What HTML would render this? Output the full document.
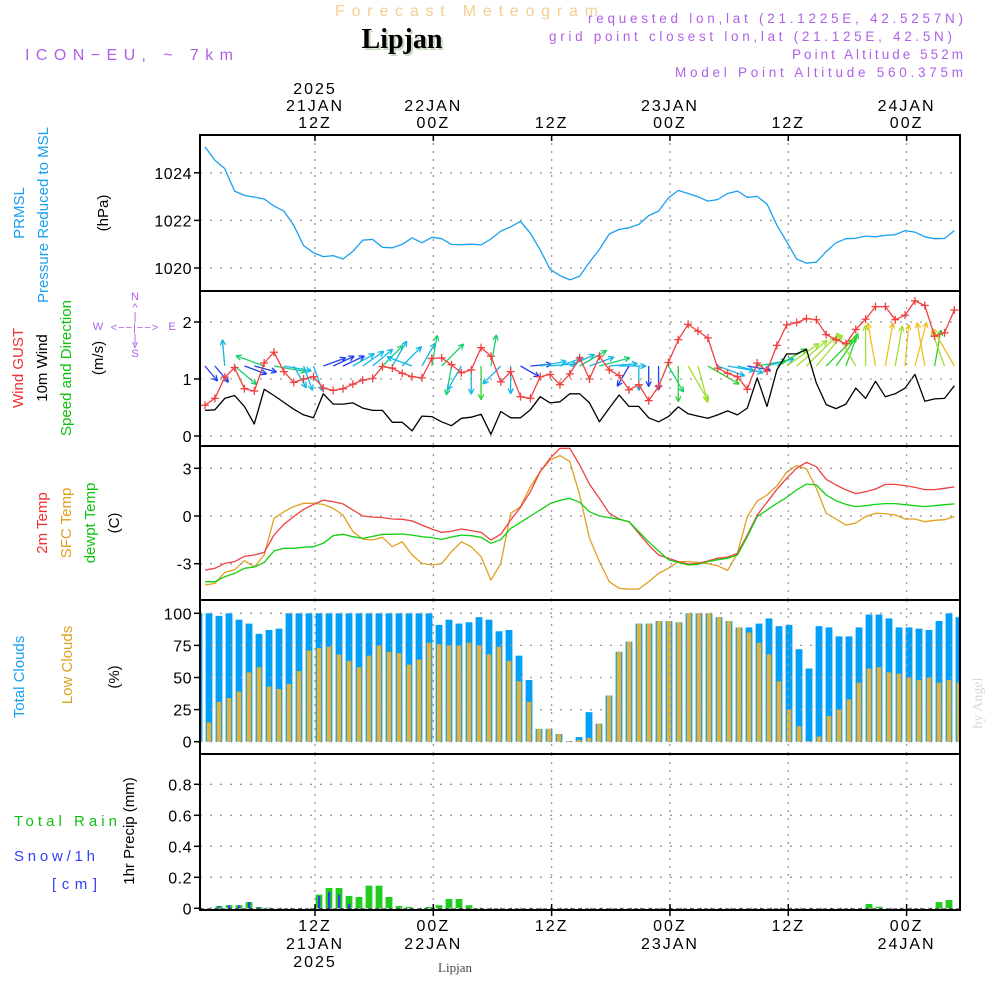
<!DOCTYPE html>
<html><head><meta charset="utf-8">
<style>
html,body{margin:0;padding:0;background:#fff;}
svg{display:block;}
text{font-family:"Liberation Sans",sans-serif;}
</style></head>
<body>
<svg id="chart" width="1000" height="1000" xmlns="http://www.w3.org/2000/svg">
<defs>
<clipPath id="plotclip"><rect x="200" y="135" width="760" height="775"/></clipPath>
</defs>
<!-- header -->
<text x="335" y="16" textLength="263" lengthAdjust="spacing" font-size="16" fill="#f5cf90">Forecast Meteogram</text>
<text x="404" y="50" text-anchor="middle" font-size="28" font-weight="bold" fill="#c8d8c0" style="font-family:'Liberation Serif',serif">Lipjan</text>
<text x="402" y="48" text-anchor="middle" font-size="28" font-weight="bold" fill="#000" style="font-family:'Liberation Serif',serif">Lipjan</text>
<text x="25" y="60" textLength="208" lengthAdjust="spacing" font-size="16" fill="#b060e8">ICON−EU, ~ 7km</text>
<text x="588" y="23" textLength="375" lengthAdjust="spacing" font-size="13.5" fill="#b060e8">requested lon,lat (21.1225E, 42.5257N)</text>
<text x="549" y="41" textLength="403" lengthAdjust="spacing" font-size="13.5" fill="#b060e8">grid point closest lon,lat (21.125E, 42.5N)</text>
<text x="792" y="59" textLength="171" lengthAdjust="spacing" font-size="13.5" fill="#b060e8">Point Altitude 552m</text>
<text x="675" y="77" textLength="288" lengthAdjust="spacing" font-size="13.5" fill="#b060e8">Model Point Altitude 560.375m</text>

<!-- left labels -->
<g font-size="15">
<text transform="translate(24,213) rotate(-90)" text-anchor="middle" fill="#1aa0f0">PRMSL</text>
<text transform="translate(48,215) rotate(-90)" text-anchor="middle" fill="#1aa0f0">Pressure Reduced to MSL</text>
<text transform="translate(108,213) rotate(-90)" text-anchor="middle" fill="#000">(hPa)</text>
<text transform="translate(23,368) rotate(-90)" text-anchor="middle" fill="#f03030">Wind GUST</text>
<text transform="translate(47,368) rotate(-90)" text-anchor="middle" fill="#000">10m Wind</text>
<text transform="translate(71,368) rotate(-90)" text-anchor="middle" fill="#10c010">Speed and Direction</text>
<text transform="translate(103,358) rotate(-90)" text-anchor="middle" fill="#000">(m/s)</text>
<text transform="translate(47,523) rotate(-90)" text-anchor="middle" fill="#f03030">2m Temp</text>
<text transform="translate(71,523) rotate(-90)" text-anchor="middle" fill="#e0a020">SFC Temp</text>
<text transform="translate(95,523) rotate(-90)" text-anchor="middle" fill="#10c010">dewpt Temp</text>
<text transform="translate(119,523) rotate(-90)" text-anchor="middle" fill="#000">(C)</text>
<text transform="translate(24,677) rotate(-90)" text-anchor="middle" fill="#1aa0f0">Total Clouds</text>
<text transform="translate(72,665) rotate(-90)" text-anchor="middle" fill="#e0a020">Low Clouds</text>
<text transform="translate(119,677) rotate(-90)" text-anchor="middle" fill="#000">(%)</text>
<text x="14" y="826" textLength="103" lengthAdjust="spacing" fill="#10c010">Total   Rain</text>
<text x="14" y="861" textLength="81" lengthAdjust="spacing" fill="#3040f0">Snow/1h</text>
<text x="52" y="889" textLength="45" lengthAdjust="spacing" fill="#3040f0">[cm]</text>
<text transform="translate(134,831) rotate(-90)" text-anchor="middle" fill="#000">1hr Precip (mm)</text>
</g>
<!-- compass -->
<g font-size="11" fill="#b060e8">
<text x="98" y="330" text-anchor="middle">W</text>
<text x="135" y="331" text-anchor="middle" letter-spacing="1">&lt;−−|−−&gt;</text>
<text x="172" y="330" text-anchor="middle">E</text>
<text x="135" y="300" text-anchor="middle">N</text>
<text x="135" y="311" text-anchor="middle">^</text>
<text x="135" y="320" text-anchor="middle">|</text>
<text x="135" y="342" text-anchor="middle">|</text>
<text x="135" y="348" text-anchor="middle">v</text>
<text x="135" y="357" text-anchor="middle">S</text>
</g>
<text transform="translate(982,703) rotate(-90)" text-anchor="middle" font-size="14" fill="#d8d8d8" style="font-family:'Liberation Serif',serif">by Angel</text>
<text x="455" y="972" text-anchor="middle" font-size="13" fill="#444" style="font-family:'Liberation Serif',serif">Lipjan</text>
<g id="layer"></g>
</svg>
<script>
// ---- data ----
const timeTicks = ['12Z','00Z','12Z','00Z','12Z','00Z'];
const timeTickDates = ['21JAN','22JAN','','23JAN','','24JAN'];
const timeTickHours = [11.2, 23.2, 35.2, 47.2, 59.2, 71.2];
const pressure = [1025.09,1024.53,1024.18,1023.23,1023.05,1022.98,1022.9,1022.6,1022.39,1021.8,1020.94,1020.64,1020.48,1020.52,1020.38,1020.7,1021.17,1021.2,1020.87,1020.85,1020.99,1021.27,1021.06,1021.29,1021.23,1020.99,1020.98,1021.0,1020.97,1021.22,1021.55,1021.73,1021.96,1021.46,1020.76,1019.94,1019.68,1019.5,1019.66,1020.25,1020.78,1021.43,1021.62,1021.69,1021.83,1022.2,1022.39,1022.94,1023.26,1023.13,1022.99,1022.81,1022.88,1023.13,1023.23,1022.97,1023.01,1022.69,1021.8,1021.1,1020.38,1020.2,1020.25,1020.69,1021.06,1021.23,1021.25,1021.34,1021.31,1021.37,1021.4,1021.57,1021.51,1021.31,1021.23,1021.24,1021.57];
const pressureTicks = [1020,1022,1024];
const gust = [0.54,0.66,1.03,1.2,0.83,0.79,1.28,1.47,1.13,0.94,1.0,1.04,0.84,0.8,0.83,0.91,0.98,1.01,1.22,1.19,1.1,1.04,1.02,1.36,1.37,1.25,1.11,1.16,1.55,1.4,0.95,1.13,0.69,0.66,1.04,1.08,0.9,1.09,1.37,1.0,1.4,1.16,1.06,0.81,0.9,0.62,0.87,1.29,1.69,1.96,1.84,1.72,1.19,1.1,1.04,0.82,1.28,1.14,1.59,1.95,1.99,2.06,2.04,1.78,1.69,1.62,1.87,2.05,2.27,2.27,2.04,2.12,2.37,2.29,1.75,1.81,2.21];
const wind = [0.45,0.46,0.66,0.71,0.52,0.21,0.82,0.71,0.59,0.47,0.37,0.32,0.74,0.56,0.56,0.58,0.49,0.45,0.45,0.24,0.24,0.09,0.35,0.34,0.25,0.18,0.31,0.33,0.38,0.03,0.43,0.32,0.32,0.46,0.69,0.58,0.6,0.74,0.74,0.58,0.25,0.49,0.72,0.52,0.52,0.32,0.25,0.34,0.51,0.39,0.35,0.31,0.37,0.44,0.37,0.49,1.02,0.52,1.16,1.44,1.44,1.52,0.93,0.55,0.48,0.56,0.84,0.66,0.96,0.69,0.74,0.84,1.08,0.61,0.65,0.66,0.88];
const windDir = [-50,-50,95,-40,-20,-15,160,-10,-10,-60,-70,-70,20,25,25,30,35,40,45,60,45,160,60,80,45,-100,-120,-90,-90,80,-135,-90,-30,5,10,5,20,25,30,20,15,5,0,-120,-90,-90,-90,-60,-90,-60,-75,-30,-20,-10,-15,-10,10,15,30,35,40,45,50,45,55,70,120,90,100,80,80,85,75,100,80,110,120];
const windTicks = [0,1,2];
const temp2m = [-3.4,-3.29,-2.98,-2.87,-2.54,-2.45,-2.29,-1.2,-0.52,-0.04,0.42,0.73,1.0,0.9,0.76,0.38,0,-0.06,-0.1,-0.19,-0.21,-0.31,-0.57,-0.82,-1.03,-0.96,-0.82,-0.92,-1.03,-1.51,-1.15,-0.25,0.55,1.53,2.79,3.63,4.26,4.26,3.21,2.0,1.11,0.17,-0.19,-0.36,-1.09,-1.83,-2.45,-2.66,-2.87,-3.02,-2.98,-2.83,-2.66,-2.58,-2.35,-1.2,0.06,0.86,1.68,2.37,3.0,3.38,3.1,2.31,1.95,1.64,1.41,1.53,1.7,1.99,1.99,1.91,1.8,1.66,1.66,1.74,1.83];
const tempSfc = [-4.34,-4.24,-3.55,-3.38,-2.81,-3.21,-2.45,-0.15,0.27,0.59,0.8,0.8,0.73,0.48,0.06,-0.99,-1.45,-1.51,-1.34,-1.93,-1.62,-2.45,-2.98,-3.08,-3.0,-2.24,-1.62,-1.93,-2.56,-4.03,-2.98,0.17,0.59,1.85,2.79,3.52,3.8,3.42,1.32,-1.4,-2.87,-4.13,-4.55,-4.6,-4.6,-4.13,-3.61,-3.29,-2.87,-2.87,-2.92,-3.0,-3.13,-3.42,-2.35,-0.04,0.94,1.32,1.89,2.75,3.17,2.96,1.74,0.17,-0.19,-0.57,-0.44,-0.04,0.17,0.15,0.06,-0.19,-0.19,-0.36,-0.27,-0.23,-0.04];
const dewpt = [-4.13,-4.13,-3.82,-3.61,-3.29,-3.21,-2.92,-2.2,-2.03,-2.03,-1.97,-1.93,-1.72,-1.24,-1.15,-1.3,-1.41,-1.28,-1.15,-1.15,-1.13,-1.2,-1.3,-1.36,-1.47,-1.32,-1.2,-1.24,-1.34,-1.72,-1.49,-0.78,-0.4,0,0.38,0.78,0.99,1.11,0.86,0.27,0,-0.1,-0.21,-0.36,-0.99,-1.62,-2.2,-2.75,-2.92,-3.08,-3.04,-2.87,-2.75,-2.66,-2.45,-1.3,-0.04,0.38,0.8,1.17,1.64,2.01,1.95,1.32,0.96,0.73,0.59,0.65,0.73,0.78,0.78,0.71,0.65,0.59,0.65,0.71,0.76];
const tempTicks = [-3,0,3];
const totalClouds = [100,100,98,100,95,92,84,87,88,100,100,100,100,100,100,100,100,100,100,100,100,100,100,100,91,95,92,93,97,95,86,87,67,48,10,10,6,0.5,3.6,23,14,36,70,78,92,92,94,94,93,100,100,100,97,94,89,89,92,96,90,91,72,57,90,89,82,82,89,99,99,96,89,89,88,87,94,100,97,97];
const lowClouds = [23,15,31,34,39,54,58,43,41,45,55,71,73,74,68,63,58,67,75,70,69,60,64,77,76,75,75,77,75,68,74,63,47,31,10,10,6,0.5,1.5,3,14,36,70,78,92,92,94,94,93,100,100,100,97,94,89,85,77,68,47,25,12,0.5,4,20,25,33,46,57,58,54,53,50,48,50,46,48,46,46];
const cloudTicks = [0,25,50,75,100];
const totalPrecip = [0,0,0.015,0.02,0.02,0.04,0.008,0.003,0,0,0,0,0.088,0.131,0.131,0.08,0.073,0.146,0.146,0.073,0.015,0.009,0,0.009,0.02,0.06,0.06,0.02,0.002,0,0,0,0,0,0,0,0,0,0,0,0,0,0,0,0,0,0,0,0,0,0,0,0,0,0,0,0,0,0,0,0,0,0,0,0,0,0,0.028,0.01,0,0,0,0,0,0.04,0.054,0];
const snowPrecip = [0,0,0.015,0.02,0.02,0.04,0.008,0.003,0,0,0,0,0.08,0.107,0.088,0.03,0.004,0,0,0,0,0,0,0,0,0,0,0,0,0,0,0,0,0,0,0,0,0,0,0,0,0,0,0,0,0,0,0,0,0,0,0,0,0,0,0,0,0,0,0,0,0,0,0,0,0,0,0,0,0,0,0,0,0,0,0,0];
const precipTicks = [0,0.2,0.4,0.6,0.8];
const precipTickLabels = ['0','0.2','0.4','0.6','0.8'];

// ---- axes ----
const X0=200, X1=960;
const xT = i => 205 + i*9.86;
const xB = k => 199 + k*10;
const xH = h => 315 + (h-11.2)*9.86;
const yP = p => 268 - (p-1020)*23.8;
const yW = v => 436 - v*57;
const yTm = t => 516 - t*15.9;
const yC = c => 741.7 - c*1.284;
const yR = r => 908.3 - r*155;
const panels = [[135,291],[291,446],[446,600],[600,754],[754,910]];

const NS='http://www.w3.org/2000/svg';
const layer=document.getElementById('layer');
function mk(tag, attrs, parent){
  const e=document.createElementNS(NS,tag);
  for(const k in attrs) e.setAttribute(k,attrs[k]);
  (parent||layer).appendChild(e); return e;
}
const clipG = mk('g',{'clip-path':'url(#plotclip)'});



function hgrid(y){ const l=mk('line',{x1:X0,x2:X1,y1:y,y2:y,stroke:'#999','stroke-width':1.3,'stroke-dasharray':'2,8'});
   }
panels.forEach(([a,b])=>{ timeTickHours.forEach(h=>{ const l=mk('line',{x1:xH(h),x2:xH(h),y1:a,y2:b,stroke:'#999','stroke-width':1.3,'stroke-dasharray':'2,6'});
   }); });
pressureTicks.forEach(v=>hgrid(yP(v)));
windTicks.forEach(v=>hgrid(yW(v)));
tempTicks.forEach(v=>hgrid(yTm(v)));
cloudTicks.forEach(v=>hgrid(yC(v)));
precipTicks.forEach(v=>hgrid(yR(v)));

function ylab(y,txt){ const t=mk('text',{x:192,y:y+6,'text-anchor':'end','font-size':16,'letter-spacing':0.5,fill:'#000'}); t.textContent=txt;
  
 const tk=mk('line',{x1:194,x2:200,y1:y,y2:y,stroke:'#000','stroke-width':1.5});
   }
pressureTicks.forEach(v=>ylab(yP(v),String(v)));
windTicks.forEach(v=>ylab(yW(v),String(v)));
tempTicks.forEach(v=>ylab(yTm(v),String(v)));
cloudTicks.forEach(v=>ylab(yC(v),String(v)));
precipTicks.forEach((v,i)=>ylab(yR(v),precipTickLabels[i]));

function poly(arr, xf, yf, color, name, w){
  const pts=arr.map((v,i)=>xf(i).toFixed(1)+','+yf(v).toFixed(1)).join(' ');
  const p=mk('polyline',{points:pts,fill:'none',stroke:color,'stroke-width':w||1.3,'stroke-linejoin':'round'},clipG);
   
}
poly(pressure,xT,yP,'#1aa0f0','pressure-line');
function arrowColor(g){ if(g<0.9) return '#2040f0'; if(g<1.2) return '#10b8e8'; if(g<1.5) return '#18d070'; if(g<1.8) return '#30d030'; if(g<2.1) return '#a0e030'; return '#f0c020'; }
windDir.forEach((d,i)=>{
  const L=12+14*gust[i], a=d*Math.PI/180;
  const x0=xT(i), y0=366, x1=x0+L*Math.cos(a), y1=y0-L*Math.sin(a);
  const c=arrowColor(gust[i]);
  const g=mk('g',{stroke:c,'stroke-width':1.3,fill:'none'},clipG);
   
  mk('line',{x1:x0,y1:y0,x2:x1,y2:y1},g);
  const h=6;
  [a+Math.PI-0.45,a+Math.PI+0.45].forEach(b=>mk('line',{x1:x1,y1:y1,x2:x1+h*Math.cos(b),y2:y1-h*Math.sin(b)},g));
});
poly(wind,xT,yW,'#000','wind-speed-line');
poly(gust,xT,yW,'#f04040','wind-gust-line');
gust.forEach((v,i)=>{ const g=mk('g',{stroke:'#f04040','stroke-width':1.3},clipG);
   
  const x=xT(i), y=yW(v);
  mk('line',{x1:x-4,x2:x+4,y1:y,y2:y},g); mk('line',{x1:x,x2:x,y1:y-4,y2:y+4},g); });
poly(tempSfc,xT,yTm,'#e0a020','sfc-temp-line');
poly(temp2m,xT,yTm,'#f04040','temp-2m-line');
poly(dewpt,xT,yTm,'#10d010','dewpt-line');
totalClouds.forEach((v,k)=>{ const r=mk('rect',{x:xB(k)-3.4,y:yC(v),width:6.8,height:yC(0)-yC(v),fill:'#00a0f8'},clipG);
    });
lowClouds.forEach((v,k)=>{ const r=mk('rect',{x:xB(k)-2.2,y:yC(v),width:4.4,height:yC(0)-yC(v),fill:'#e8b030'},clipG);
    });
totalPrecip.forEach((v,k)=>{ if(v<=0) return; const r=mk('rect',{x:xB(k)-3.4,y:yR(v),width:6.8,height:yR(0)-yR(v),fill:'#20cc20'},clipG);
    });
snowPrecip.forEach((v,k)=>{ if(v<=0) return; const r=mk('rect',{x:xB(k)-1,y:yR(v),width:2.2,height:yR(0)-yR(v),fill:'#3040f0'},clipG);
    });
const zl=mk('line',{x1:X0,x2:X1,y1:909,y2:909,stroke:'#000','stroke-width':1,'stroke-dasharray':'4,3'});
 

panels.forEach(([a,b])=>{ const r=mk('rect',{x:X0,y:a,width:X1-X0,height:b-a,fill:'none',stroke:'#000','stroke-width':2});
    });

timeTickHours.forEach((h,i)=>{
  const x=xH(h);
  const t1=mk('line',{x1:x,x2:x,y1:135,y2:141,stroke:'#000','stroke-width':1.5});  
  const t2=mk('line',{x1:x,x2:x,y1:904,y2:916,stroke:'#000','stroke-width':1.5});  
  const lines = timeTickDates[i] ? (i===0?['2025',timeTickDates[i],timeTicks[i]]:[timeTickDates[i],timeTicks[i]]) : [timeTicks[i]];
  lines.forEach((s,j)=>{ const t=mk('text',{x:x,y:128-(lines.length-1-j)*17,'text-anchor':'middle','font-size':16,'letter-spacing':2,fill:'#000'}); t.textContent=s;
      });
  const bl = timeTickDates[i] ? (i===0?[timeTicks[i],timeTickDates[i],'2025']:[timeTicks[i],timeTickDates[i]]) : [timeTicks[i]];
  bl.forEach((s,j)=>{ const t=mk('text',{x:x,y:931+j*18,'text-anchor':'middle','font-size':16,'letter-spacing':2,fill:'#000'}); t.textContent=s;
      });
});
</script>
</body></html>
